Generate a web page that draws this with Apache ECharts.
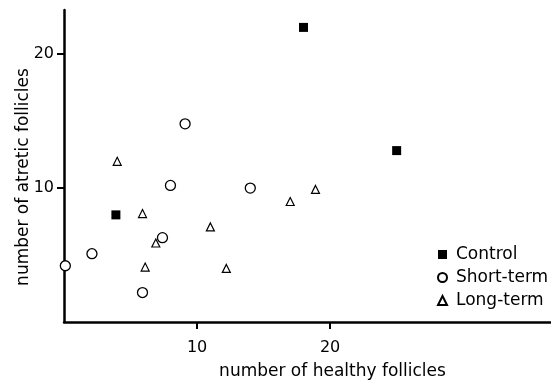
<!DOCTYPE html>
<html>
<head>
<meta charset="utf-8">
<script src="https://cdn.jsdelivr.net/npm/echarts@6/dist/echarts.min.js"></script>
<style>
  html, body { margin: 0; padding: 0; background: #fff; }
  #chart { width: 551px; height: 380px; }
</style>
</head>
<body>
<div id="chart"></div>
<script>
// values: [healthy, atretic]
const controlPts = [[3.9, 8.0], [18.0, 22.0], [25.0, 12.8]];
const shortTermPts = [[0.1, 4.2], [2.1, 5.1], [5.9, 2.2], [7.4, 6.3], [8.0, 10.2], [9.1, 14.8], [14.0, 10.0]];
const longTermPts = [[4.0, 12.0], [5.9, 8.1], [6.1, 4.1], [6.9, 5.9], [11.0, 7.1], [12.2, 4.0], [17.0, 9.0], [18.9, 9.9]];
const xTicks = [10, 20];
const yTicks = [10, 20];

const font = 'DejaVu Sans, Verdana, sans-serif';
const chart = echarts.init(document.getElementById('chart'));

const axisCommon = {
  type: 'value',
  splitLine: { show: false },
  axisLine: { show: true, onZero: false, lineStyle: { color: '#000', width: 2.5 } },
  axisTick: { show: true, length: 7, lineStyle: { color: '#000', width: 2 } },
  axisLabel: { color: '#000', fontFamily: font, fontSize: 16 },
  nameTextStyle: { color: '#000', fontFamily: font, fontSize: 17 }
};

chart.setOption({
  animation: false,
  grid: { left: 64, top: 10, right: 0, bottom: 58, outerBoundsMode: 'none' },
  xAxis: {
    ...axisCommon,
    min: 0, max: 36.6,
    name: 'number of healthy follicles',
    nameLocation: 'middle',
    nameGap: 41,
    nameTextStyle: { ...axisCommon.nameTextStyle, padding: [0, 0, 0, 50] },
    axisTick: { ...axisCommon.axisTick, customValues: xTicks },
    axisLabel: { ...axisCommon.axisLabel, customValues: xTicks, margin: 18 }
  },
  yAxis: {
    ...axisCommon,
    min: 0, max: 23.3,
    name: 'number of atretic follicles',
    nameLocation: 'middle',
    nameGap: 32,
    nameMoveOverlap: false,
    nameTextStyle: { ...axisCommon.nameTextStyle, padding: [0, 22, 0, 0] },
    axisTick: { ...axisCommon.axisTick, customValues: yTicks },
    axisLabel: { ...axisCommon.axisLabel, customValues: yTicks, margin: 10 }
  },
  legend: {
    orient: 'vertical',
    left: 432,
    top: 241,
    itemWidth: 9,
    itemHeight: 9,
    itemGap: 6,
    textStyle: { color: '#000', fontFamily: font, fontSize: 17, padding: [0, 0, 0, 4] },
    data: ['Control', 'Short-term', 'Long-term']
  },
  series: [
    {
      name: 'Control', type: 'scatter', data: controlPts,
      symbol: 'rect', symbolSize: 9,
      itemStyle: { color: '#000', opacity: 1 }
    },
    {
      name: 'Short-term', type: 'scatter', data: shortTermPts,
      symbol: 'circle', symbolSize: 10,
      itemStyle: { color: '#fff', borderColor: '#000', borderWidth: 1.3, opacity: 1 }
    },
    {
      name: 'Long-term', type: 'scatter', data: longTermPts,
      symbol: 'triangle', symbolSize: 8,
      itemStyle: { color: '#fff', borderColor: '#000', borderWidth: 1.2, opacity: 1 }
    }
  ]
});
</script>
</body>
</html>
